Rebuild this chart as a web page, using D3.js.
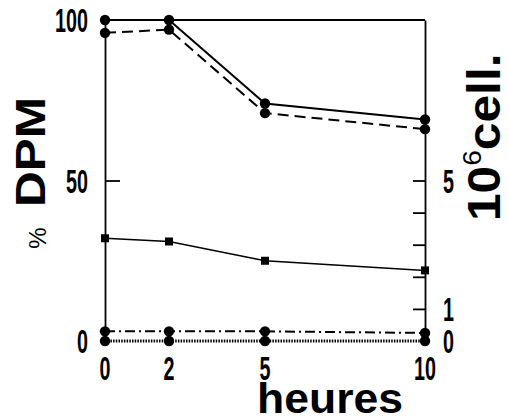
<!DOCTYPE html>
<html>
<head>
<meta charset="utf-8">
<script src="https://cdn.jsdelivr.net/npm/d3@7"></script>
<style>
  body { margin: 0; background: #fff; }
  svg { display: block; }
</style>
</head>
<body>
<script>
// hours on the x axis
var hours = [0, 2, 5, 10];
// % DPM series (left axis)
var dpmSolid   = [100, 100, 74, 69];
var dpmDashed  = [96, 97, 71, 66];
var dpmDashDot = [3, 3, 3, 2.5];
var dpmDotted  = [0, 0, 0, 0];
// 10^6 cells (right axis)
var cells = [3.2, 3.1, 2.5, 2.2];

var xTicks = [0, 2, 5, 10];
var leftTickLabels = [0, 50, 100];
var rightTicks = [1, 2, 3, 4, 5];
var rightTickLabels = [0, 1, 5];

var svg = d3.select("body").append("svg")
            .attr("width", 509).attr("height", 418);

var x = d3.scaleLinear().domain([0, 10]).range([105, 425]);
var y = d3.scaleLinear().domain([0, 100]).range([341, 20]);
var y2 = d3.scaleLinear().domain([0, 10]).range([341, 20]);

// left axis, tick pointing inward
svg.append("g").attr("transform", "translate(" + x(0) + ",0)")
    .call(d3.axisRight(y).tickValues([50]).tickSize(15).tickSizeOuter(0).tickFormat(""))
    .call(function(g){ g.selectAll("path,line").attr("stroke", "#000").attr("stroke-width", 1.8); });

// right axis
svg.append("g").attr("transform", "translate(" + x(10) + ",0)")
    .call(d3.axisLeft(y2).tickValues(rightTicks).tickSize(12).tickSizeOuter(0).tickFormat(""))
    .call(function(g){ g.selectAll("path,line").attr("stroke", "#000").attr("stroke-width", 1.8); });

// top frame line
svg.append("line")
    .attr("x1", x(0)).attr("x2", x(10))
    .attr("y1", y(100)).attr("y2", y(100))
    .attr("stroke", "#000").attr("stroke-width", 1.8);

var series = [
  {vals: dpmSolid,   scale: y,  dash: null,        w: 2,   mark: "circle"},
  {vals: dpmDashed,  scale: y,  dash: "11,6",      w: 2,   mark: "circle"},
  {vals: dpmDashDot, scale: y,  dash: "10,4,2,4",  w: 2,   mark: "circle"},
  {vals: dpmDotted,  scale: y,  dash: "1.5,1.2",   w: 2.8, mark: "circle"},
  {vals: cells,      scale: y2, dash: null,        w: 1.5, mark: "square"}
];

series.forEach(function(s){
  var line = d3.line()
      .x(function(d, i){ return x(hours[i]); })
      .y(function(d){ return s.scale(d); });
  svg.append("path")
      .attr("d", line(s.vals))
      .attr("fill", "none")
      .attr("stroke", "#000")
      .attr("stroke-width", s.w)
      .attr("stroke-dasharray", s.dash);
  if (s.mark == "circle") {
    svg.append("g").selectAll("circle").data(s.vals).enter().append("circle")
        .attr("cx", function(d, i){ return x(hours[i]); })
        .attr("cy", function(d){ return s.scale(d); })
        .attr("r", 5.2);
  } else {
    svg.append("g").selectAll("rect").data(s.vals).enter().append("rect")
        .attr("x", function(d, i){ return x(hours[i]) - 4; })
        .attr("y", function(d){ return s.scale(d) - 4; })
        .attr("width", 8).attr("height", 8);
  }
});

// condensed tick labels
function numLabel(txt, px, py, anchor) {
  svg.append("text")
      .attr("transform", "translate(" + px + "," + py + ") scale(0.58,1)")
      .attr("text-anchor", anchor)
      .style("font-family", "'Liberation Sans', Arial, sans-serif")
      .style("font-weight", "700")
      .style("font-size", "34px")
      .text(txt);
}
xTicks.forEach(function(t){ numLabel(t, x(t), 380, "middle"); });
leftTickLabels.forEach(function(t){ numLabel(t, 88, y(t) + 12, "end"); });
rightTickLabels.forEach(function(t){ numLabel(t, 443, y2(t) + 12, "start"); });

// axis titles
svg.append("text")
    .attr("transform", "translate(330,413) scale(1.06,1)")
    .attr("text-anchor", "middle")
    .style("font-family", "'Liberation Sans', Arial, sans-serif")
    .style("font-weight", "700").style("font-size", "42px")
    .text("heures");

svg.append("text")
    .attr("transform", "translate(45,152) rotate(-90) scale(1.18,1)")
    .attr("text-anchor", "middle")
    .style("font-family", "'Liberation Sans', Arial, sans-serif")
    .style("font-weight", "700").style("font-size", "42px")
    .text("DPM");

svg.append("text")
    .attr("transform", "translate(46,238) rotate(-90)")
    .attr("text-anchor", "middle")
    .style("font-family", "'Liberation Sans', Arial, sans-serif")
    .style("font-size", "24px")
    .text("%");

var cellTitle = svg.append("text")
    .attr("transform", "translate(500,221) rotate(-90) scale(1.08,1)")
    .style("font-family", "'Liberation Sans', Arial, sans-serif")
    .style("font-weight", "700").style("font-size", "46px");
cellTitle.append("tspan").text("10");
cellTitle.append("tspan").attr("dy", -19).style("font-size", "26px").style("font-weight", "400").text("6");
cellTitle.append("tspan").attr("dy", 19).text("cell.");
</script>
</body>
</html>
